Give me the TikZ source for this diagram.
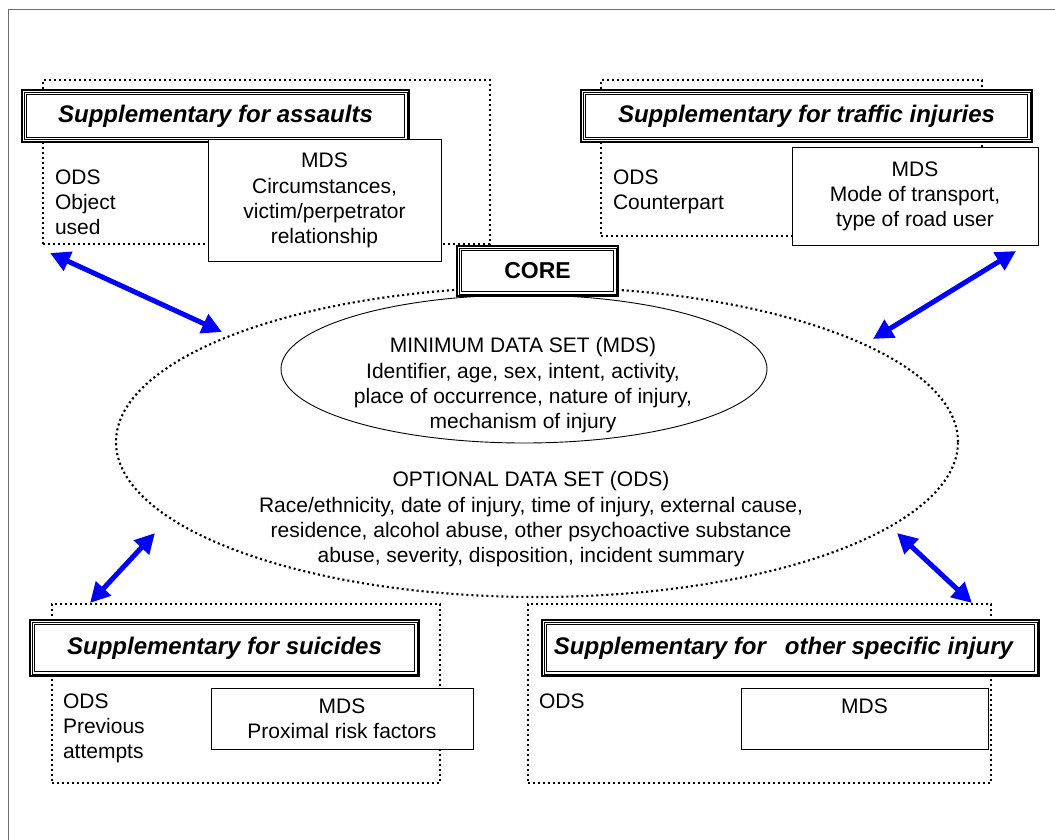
\documentclass[tikz,border=0pt]{standalone}
\usepackage{fontspec}
\setmainfont{Liberation Sans}
\usetikzlibrary{arrows.meta,shapes.geometric}
\definecolor{arrowblue}{RGB}{0,0,255}
\definecolor{framegray}{RGB}{110,110,110}
\begin{document}
\begin{tikzpicture}[x=1pt,y=-1pt,
  every node/.style={inner sep=0pt,outer sep=0pt},
  body/.style={font=\fontsize{21}{25.3}\selectfont},
  dotbox/.style={draw,line width=2.1pt,dash pattern=on 2.1pt off 2.9pt},
  mdsbox/.style={draw,line width=1pt,fill=white,body,align=center},
  odstext/.style={body,align=left,anchor=north west},
  titlebox/.style={draw,line width=1.6pt,fill=white,
    font=\fontsize{24}{28}\selectfont\bfseries\itshape,
    path picture={
      \draw[line width=0.8pt] ([shift={(2.3pt,-2.3pt)}]path picture bounding box.north west) rectangle ([shift={(-2.3pt,2.3pt)}]path picture bounding box.south east);
      \draw[line width=1.2pt] ([shift={(4.9pt,-4.9pt)}]path picture bounding box.north west) rectangle ([shift={(-4.9pt,4.9pt)}]path picture bounding box.south east);
    }},
  link/.style={arrowblue,line width=5pt,{Triangle[length=20pt,width=20pt]}-{Triangle[length=20pt,width=20pt]}}
]
\useasboundingbox (0,0) rectangle (1055,840);
% frame
\draw[framegray,line width=1pt] (8,840) -- (8,10) -- (1056,10);

% dotted group boxes
\node[dotbox,minimum width=447pt,minimum height=164pt] (gA) at (266.5,162) {};
\node[dotbox,minimum width=381pt,minimum height=156pt] (gT) at (791.5,158) {};
\node[dotbox,minimum width=388pt,minimum height=179pt] (gS) at (246,693.5) {};
\node[dotbox,minimum width=463pt,minimum height=179pt] (gO) at (759.5,693.5) {};

% core ellipses
\node[dotbox,ellipse,minimum width=842pt,minimum height=310pt] (outer) at (537,442) {};
\node[draw,line width=0.9pt,ellipse,minimum width=486pt,minimum height=148pt] (inner) at (524,369) {};

% title boxes
\node[titlebox,minimum width=387.4pt,minimum height=52.4pt] (tA) at (215.5,116) {Supplementary for assaults};
\node[titlebox,minimum width=451.4pt,minimum height=52.4pt] (tT) at (806.5,116) {Supplementary for traffic injuries};
\node[titlebox,minimum width=389.4pt,minimum height=56.4pt] (tS) at (224.5,648) {Supplementary for suicides};
\node[titlebox,minimum width=497.4pt,minimum height=56.4pt] (tO) at (790.5,648) {\hspace{-14pt}Supplementary for\hspace{19pt}other specific injury};
\node[titlebox,font=\fontsize{23}{27}\selectfont\bfseries,minimum width=161.4pt,minimum height=50.4pt] (core) at (537.5,271) {CORE};

% MDS boxes
\node[mdsbox,minimum width=233pt,minimum height=121pt] (mA) at (324.5,200.5) {MDS\\Circumstances,\\victim/perpetrator\\relationship};
\node[mdsbox,minimum width=246pt,minimum height=97pt] (mT) at (915,196.5) {MDS\\Mode of transport,\\type of road user};
\node[mdsbox,minimum width=262pt,minimum height=61pt] (mS) at (342,718.5) {MDS\\Proximal risk factors};
\node[mdsbox,minimum width=247pt,minimum height=61pt] (mO) at (864.5,718.5) {MDS\\\phantom{X}};

% ODS texts
\node[odstext] (oA) at (55,169.5) {ODS\\Object\\used};
\node[odstext] (oT) at (613,169.5) {ODS\\Counterpart};
\node[odstext] (oS) at (63,693.5) {ODS\\Previous\\attempts};
\node[odstext] (oO) at (539,693.5) {ODS};

% core texts
\node[body,align=center] (mdsT) at (523,385.5) {MINIMUM DATA SET (MDS)\\Identifier, age, sex, intent, activity,\\place of occurrence, nature of injury,\\mechanism of injury};
\node[body,align=center] (odsT) at (531,519.5) {OPTIONAL DATA SET (ODS)\\Race/ethnicity, date of injury, time of injury, external cause,\\residence, alcohol abuse, other psychoactive substance\\abuse, severity, disposition, incident summary};

% arrow end points
\coordinate (pA) at (50,253);
\coordinate (qA) at (222,332);
\coordinate (pT) at (1016,251);
\coordinate (qT) at (873,339);
\coordinate (pS) at (90,603);
\coordinate (qS) at (155,533);
\coordinate (pO) at (972,603);
\coordinate (qO) at (897,533);

\draw[link] (pA) -- (qA);
\draw[link] (pT) -- (qT);
\draw[link] (pS) -- (qS);
\draw[link] (pO) -- (qO);
\end{tikzpicture}
\end{document}
